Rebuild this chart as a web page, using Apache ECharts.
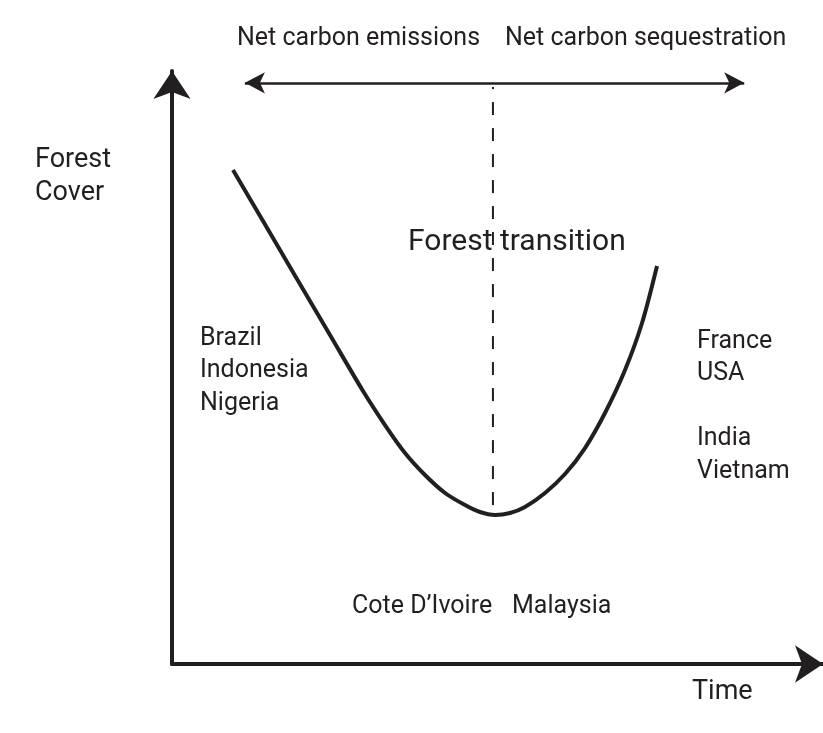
<!DOCTYPE html>
<html>
<head>
<meta charset="utf-8">
<script src="https://cdn.jsdelivr.net/npm/echarts@6/dist/echarts.min.js"></script>
<style>
  html, body { margin: 0; padding: 0; background: #fff; }
  #chart { width: 823px; height: 733px; }
</style>
</head>
<body>
<div id="chart"></div>
<script>
  // curve: time vs forest cover (0..100 units)
  const curveX = [9.37, 13.98, 19.20, 24.27, 29.34, 32.72, 35.79, 38.86, 41.94, 45.01, 47.31,
    49.62, 51.92, 54.22, 57.30, 60.37, 63.44, 66.51, 69.59, 72.20, 74.50]
  const curveY = [83.31, 74.70, 64.92, 55.48, 46.04, 40.30, 35.58, 31.87, 28.84, 26.81, 25.63,
    25.13, 25.46, 26.48, 28.84, 32.04, 36.42, 42.33, 49.58, 57.50, 67.12]
  // forest transition point (dashed line)
  const transitionX = 49.3
  const transitionY = [26.8, 97.3]
  // carbon arrow span
  const carbonArrowX = [11.2, 87.9]
  const carbonArrowY = 98.0

  const ink = '#231f20'
  const font = 'Roboto'

  function label(text, x, y, size) {
    return {
      type: 'text', x: x, y: y + 2,
      style: { text: text, fill: ink, fontSize: size, fontFamily: font, verticalAlign: 'middle' }
    }
  }

  const chart = echarts.init(document.getElementById('chart'))
  chart.setOption({
    animation: false,
    grid: { left: 172, top: 71, right: 0, bottom: 69 },
    xAxis: {
      type: 'value', min: 0, max: 100,
      axisLine: { show: true, symbol: ['none', 'arrow'], symbolSize: [28, 28],
        lineStyle: { color: ink, width: 4 } },
      axisTick: { show: false }, axisLabel: { show: false }, splitLine: { show: false }
    },
    yAxis: {
      type: 'value', min: 0, max: 100,
      axisLine: { show: true, symbol: ['none', 'arrow'], symbolSize: [28, 28],
        lineStyle: { color: ink, width: 4 } },
      axisTick: { show: false }, axisLabel: { show: false }, splitLine: { show: false }
    },
    series: [
      {
        type: 'line', smooth: 0.3, symbol: 'none',
        data: curveX.map((x, i) => [x, curveY[i]]),
        lineStyle: { color: ink, width: 4 }
      },
      {
        type: 'line', symbol: 'none',
        data: transitionY.map(y => [transitionX, y]),
        lineStyle: { color: ink, width: 2, type: [13, 13] },
        markLine: {
          silent: true,
          symbol: ['arrow', 'arrow'], symbolSize: [16, 20],
          label: { show: false },
          lineStyle: { color: ink, width: 2.5, type: 'solid' },
          data: [[{ coord: [carbonArrowX[0], carbonArrowY] }, { coord: [carbonArrowX[1], carbonArrowY] }]]
        }
      }
    ],
    graphic: [
      label('Net carbon emissions', 237, 37, 25),
      label('Net carbon sequestration', 505, 37, 25),
      label('Forest', 35, 158, 27),
      label('Cover', 35, 191, 27),
      label('Forest transition', 408, 240, 30),
      label('Brazil', 200, 337, 25),
      label('Indonesia', 200, 369, 25),
      label('Nigeria', 200, 402, 25),
      label('France', 697, 340, 25),
      label('USA', 697, 372, 25),
      label('India', 697, 437, 25),
      label('Vietnam', 697, 470, 25),
      label('Cote D\u2019Ivoire', 352, 605, 25),
      label('Malaysia', 512, 605, 25),
      label('Time', 692, 690, 27)
    ]
  })
</script>
</body>
</html>
